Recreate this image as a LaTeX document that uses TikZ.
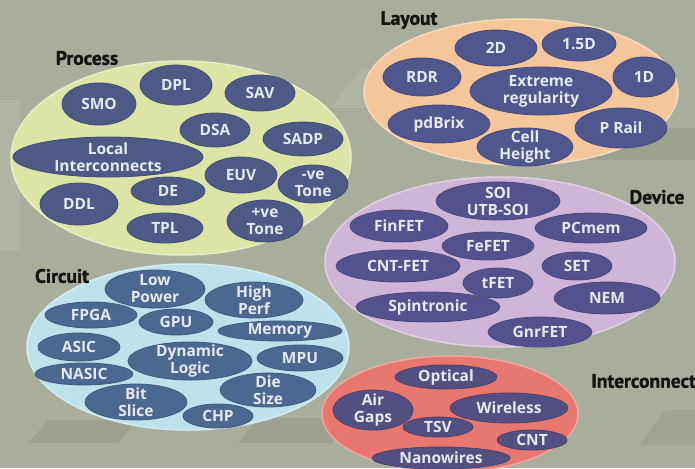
\documentclass[tikz,border=0pt]{standalone}
\usepackage{fontspec}
\setmainfont{Open Sans}
\newfontfamily\headfont{PT Sans}[BoldFeatures={FakeBold=1.4}]
\usetikzlibrary{shapes.geometric}

\definecolor{bgcol}{HTML}{A9AE9C}
\definecolor{procfill}{HTML}{DCE5A6}
\definecolor{layfill}{HTML}{F4C699}
\definecolor{devfill}{HTML}{CFB6D9}
\definecolor{cirfill}{HTML}{BDE2EC}
\definecolor{intfill}{HTML}{E8776F}
\definecolor{procnode}{HTML}{4D5A86}
\definecolor{laynode}{HTML}{50568E}
\definecolor{devnode}{HTML}{53528F}
\definecolor{cirnode}{HTML}{4B6890}
\definecolor{intnode}{HTML}{534F80}
\definecolor{textcol}{HTML}{E6E9F0}

\tikzset{
  blob/.style={ellipse, inner sep=0pt, fill=#1, draw=white!35!#1, line width=1.5pt},
  item/.style 2 args={ellipse, inner sep=0pt, minimum width=#1pt, minimum height=#2pt,
    fill=itemfill, draw=itemfill!85!black, line width=0.8pt},
  itemtext/.style={text=textcol, align=center, inner sep=0pt,
    font=\bfseries\fontsize{15.5}{17}\selectfont},
  head/.style={font=\headfont\bfseries\fontsize{19.5}{21}\selectfont, text=black!92, inner sep=0pt}
}

\begin{document}
\begin{tikzpicture}[x=1pt, y=-1pt, line join=round]
    \useasboundingbox (0,0) rectangle (695,468);
    \clip (0,0) rectangle (695,468);
    \fill[bgcol] (0,0) rectangle (695,468);

    % faint diagonal bands of the backdrop
    \fill[black, opacity=0.07] (28,443) -- (48,420) -- (138,420) -- (118,443) -- cycle;
    \fill[black, opacity=0.07] (238,443) -- (258,418) -- (352,418) -- (332,443) -- cycle;
    \fill[black, opacity=0.07] (585,160) -- (612,128) -- (695,128) -- (695,160) -- cycle;
    \fill[white, opacity=0.08] (0,100) -- (20,100) -- (20,250) -- (0,250) -- cycle;
    \fill[white, opacity=0.08] (330,108) -- (362,68) -- (372,68) -- (372,108) -- cycle;
    \fill[black, opacity=0.06] (640,445) -- (665,410) -- (695,410) -- (695,445) -- cycle;

    % 1. Process
    \node[blob=procfill, minimum width=340pt, minimum height=194pt] (process) at (181,158) {};
    \node[head] (proclabel) at (87,58) {Process};
    \colorlet{itemfill}{procnode}
    \node[item={74}{42}, label={[itemtext]center:SMO}] (smo) at (99,104) {};
    \node[item={72}{40}, label={[itemtext]center:DPL}] (dpl) at (176,85) {};
    \node[item={70}{36}, label={[itemtext]center:SAV}] (sav) at (260,93) {};
    \node[item={70}{34}, label={[itemtext]center:DSA}] (dsa) at (215,130) {};
    \node[item={80}{34}, label={[itemtext]center:SADP}] (sadp) at (303,139) {};
    \node[item={190}{40}, label={[itemtext]center:{Local\\Interconnects}}] (localic) at (108,157) {};
    \node[item={72}{36}, label={[itemtext]center:EUV}] (euv) at (241,175) {};
    \node[item={70}{38}, label={[itemtext]center:{-ve\\Tone}}] (negtone) at (313,184) {};
    \node[item={74}{28}, label={[itemtext]center:DE}] (de) at (168,191) {};
    \node[item={78}{42}, label={[itemtext]center:DDL}] (ddl) at (79,204) {};
    \node[item={76}{30}, label={[itemtext]center:TPL}] (tpl) at (165,228) {};
    \node[item={76}{42}, label={[itemtext]center:{+ve\\Tone}}] (postone) at (265,221) {};

    % 2. Layout
    \node[blob=layfill, minimum width=314pt, minimum height=146pt] (layout) at (521,92) {};
    \node[head] (laylabel) at (409,20) {Layout};
    \colorlet{itemfill}{laynode}
    \node[item={82}{36}, label={[itemtext]center:2D}] (twod) at (496,48) {};
    \node[item={74}{34}, label={[itemtext]center:1.5D}] (onehalfd) at (579,44) {};
    \node[item={78}{38}, label={[itemtext]center:RDR}] (rdr) at (422,77) {};
    \node[item={62}{40}, label={[itemtext]center:1D}] (oned) at (644,77) {};
    \node[item={142}{48}, label={[itemtext]center:{Extreme\\regularity}}] (extreme) at (541,91) {};
    \node[item={102}{38}, label={[itemtext]center:pdBrix}] (pdbrix) at (439,124) {};
    \node[item={92}{40}, label={[itemtext]center:P Rail}] (prail) at (621,128) {};
    \node[item={96}{38}, label={[itemtext]center:{Cell\\Height}}] (cellh) at (525,147) {};

    % 3. Device
    \node[blob=devfill, minimum width=350pt, minimum height=170pt] (device) at (500,262) {};
    \node[head] (devlabel) at (657,197) {Device};
    \colorlet{itemfill}{devnode}
    \node[item={124}{38}, label={[itemtext]center:{SOI\\UTB-SOI}}] (soi) at (498,201) {};
    \node[item={98}{32}, label={[itemtext]center:FinFET}] (finfet) at (399,226) {};
    \node[item={112}{30}, label={[itemtext]center:PCmem}] (pcmem) at (591,228) {};
    \node[item={92}{28}, label={[itemtext]center:FeFET}] (fefet) at (488,246) {};
    \node[item={124}{32}, label={[itemtext]center:CNT-FET}] (cntfet) at (398,266) {};
    \node[item={70}{28}, label={[itemtext]center:SET}] (set) at (577,266) {};
    \node[item={70}{30}, label={[itemtext]center:tFET}] (tfet) at (498,283) {};
    \node[item={106}{32}, label={[itemtext]center:NEM}] (nem) at (607,298) {};
    \node[item={144}{30}, label={[itemtext]center:Spintronic}] (spin) at (428,307) {};
    \node[item={104}{30}, label={[itemtext]center:GnrFET}] (gnrfet) at (540,332) {};

    % 4. Circuit
    \node[blob=cirfill, minimum width=322pt, minimum height=166pt] (circuit) at (188,347) {};
    \node[head] (cirlabel) at (62,276) {Circuit};
    \colorlet{itemfill}{cirnode}
    \node[item={100}{38}, label={[itemtext]center:{Low\\Power}}] (lowp) at (155,289) {};
    \node[item={98}{36}, label={[itemtext]center:{High\\Perf}}] (highp) at (254,300) {};
    \node[item={92}{26}, label={[itemtext]center:FPGA}] (fpga) at (91,315) {};
    \node[item={74}{26}, label={[itemtext]center:GPU}] (gpu) at (176,322) {};
    \node[item={124}{20}, label={[itemtext]center:Memory}] (memory) at (280,331) {};
    \node[item={82}{28}, label={[itemtext]center:ASIC}] (asic) at (79,347) {};
    \node[item={124}{38}, label={[itemtext]center:{Dynamic\\Logic}}] (dynlogic) at (190,361) {};
    \node[item={86}{26}, label={[itemtext]center:MPU}] (mpu) at (300,358) {};
    \node[item={98}{22}, label={[itemtext]center:NASIC}] (nasic) at (84,374) {};
    \node[item={96}{34}, label={[itemtext]center:{Die\\Size}}] (diesize) at (268,390) {};
    \node[item={102}{36}, label={[itemtext]center:{Bit\\Slice}}] (bitslice) at (136,402) {};
    \node[item={70}{24}, label={[itemtext]center:CHP}] (chp) at (218,416) {};

    % 5. Interconnect
    \node[blob=intfill, minimum width=256pt, minimum height=116pt] (interc) at (450,414) {};
    \node[head, anchor=east] (intlabel) at (696,381) {Interconnect};
    \colorlet{itemfill}{intnode}
    \node[item={102}{24}, label={[itemtext]center:Optical}] (optical) at (446,377) {};
    \node[item={80}{40}, label={[itemtext]center:{Air\\Gaps}}] (airgaps) at (373,410) {};
    \node[item={118}{30}, label={[itemtext]center:Wireless}] (wireless) at (509,408) {};
    \node[item={70}{20}, label={[itemtext]center:TSV}] (tsv) at (438,427) {};
    \node[item={70}{20}, label={[itemtext]center:CNT}] (cnt) at (532,440) {};
    \node[item={138}{22}, label={[itemtext]center:Nanowires}] (nanow) at (441,458) {};
\end{tikzpicture}
\end{document}
